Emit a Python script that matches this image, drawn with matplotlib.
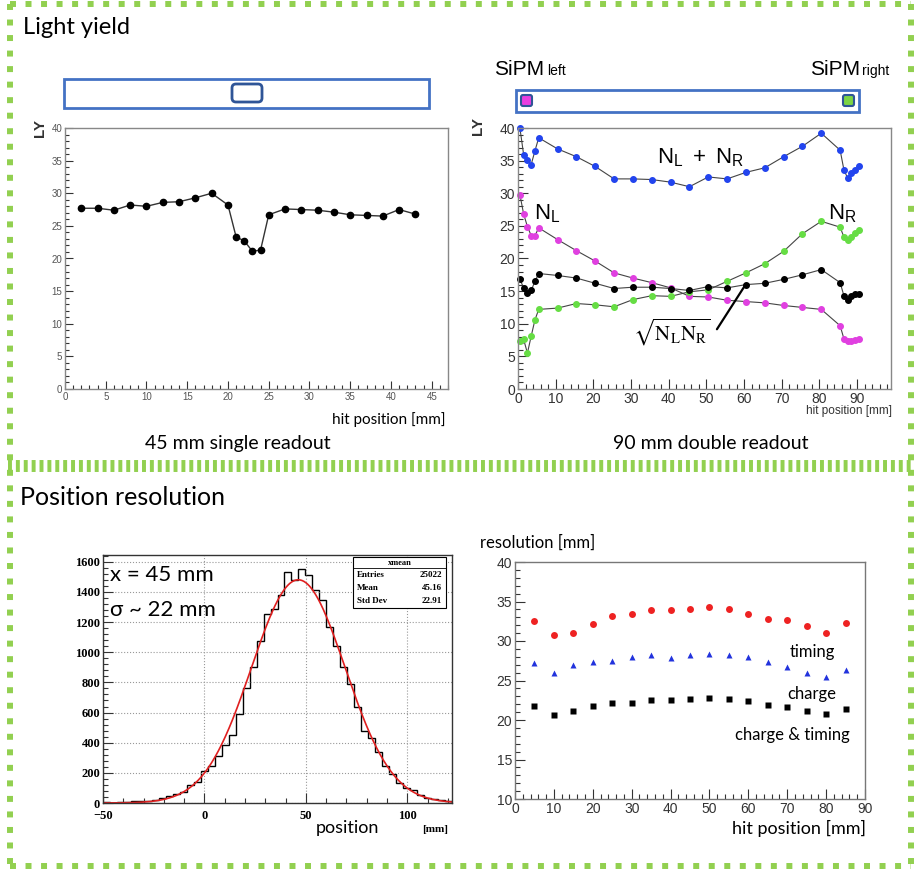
import matplotlib
matplotlib.use("Agg")
import numpy as np
import matplotlib.pyplot as plt
from matplotlib.patches import Rectangle, FancyBboxPatch
from matplotlib.ticker import MultipleLocator

plt.rcParams["font.family"] = ["Liberation Sans", "DejaVu Sans"]
plt.rcParams["mathtext.fontset"] = "custom"
plt.rcParams["mathtext.rm"] = "Liberation Sans"
plt.rcParams["mathtext.it"] = "Liberation Sans:italic"

W, H = 914, 872
GREEN = "#92D050"; BARBLUE = "#4472C4"; DKBLUE = "#2F5597"
CAL = ["Lato", "DejaVu Sans"]

# ---- light yield, 45 mm single readout
LY45_X = [2, 4, 6, 8, 10, 12, 14, 16, 18, 20, 21, 22, 23, 24, 25, 27, 29, 31, 33, 35, 37, 39, 41, 43]
LY45 = [27.7, 27.7, 27.4, 28.2, 28.0, 28.6, 28.7, 29.3, 30.0, 28.2, 23.3, 22.7, 21.1, 21.3,
        26.7, 27.6, 27.5, 27.4, 27.1, 26.7, 26.6, 26.5, 27.5, 26.8]

# ---- light yield, 90 mm double readout
LY90_X = [0.5, 1.5, 2.5, 3.5, 4.5, 5.5, 10.5, 15.5, 20.5, 25.5, 30.5, 35.5, 40.5, 45.5, 50.5,
          55.5, 60.5, 65.5, 70.5, 75.5, 80.5, 85.5, 86.5, 87.5, 88.5, 89.5, 90.5]
N_SUM = [40.0, 35.9, 35.1, 34.4, 36.5, 38.5, 36.8, 35.6, 34.1, 32.2, 32.2, 32.1, 31.7, 31.0, 32.5,
         32.2, 33.2, 33.9, 35.6, 37.2, 39.2, 36.6, 33.6, 32.3, 33.1, 33.5, 34.2]
N_L = [29.8, 26.8, 24.9, 23.5, 23.5, 24.7, 22.9, 21.2, 19.6, 17.8, 17.0, 16.3, 15.5, 14.2, 14.1,
       13.6, 13.4, 13.2, 12.8, 12.5, 12.2, 9.7, 7.7, 7.3, 7.3, 7.5, 7.7]
N_R = [7.3, 7.6, 5.5, 8.1, 10.6, 12.2, 12.4, 13.1, 12.9, 12.6, 13.7, 14.3, 14.2, 14.9, 15.2,
       16.5, 17.8, 19.2, 21.1, 23.8, 25.7, 24.8, 23.3, 22.8, 23.3, 23.9, 24.3]
N_GEO = [16.8, 15.5, 14.7, 15.1, 16.5, 17.7, 17.4, 17.0, 16.2, 15.4, 15.6, 15.6, 15.4, 15.1, 15.7,
         15.5, 16.0, 16.2, 16.8, 17.5, 18.3, 16.3, 14.3, 13.7, 14.2, 14.5, 14.6]

# ---- reconstructed position histogram at x = 45 mm
HIST_EDGES = np.linspace(-50, 122, 51)
HIST_COUNTS = [5, 3, 8, 6, 12, 10, 14, 18, 30, 45, 58, 74, 118, 140, 215, 245, 310, 385, 450, 590,
               760, 905, 1075, 1255, 1285, 1380, 1530, 1480, 1550, 1510, 1410, 1345, 1170, 1040, 900,
               790, 640, 480, 430, 335, 245, 195, 130, 100, 85, 55, 35, 25, 20, 10]
STATS = [("Entries", "25022"), ("Mean", "45.16"), ("Std Dev", "22.91")]

# ---- position resolution vs hit position
RES_X = [5, 10, 15, 20, 25, 30, 35, 40, 45, 50, 55, 60, 65, 70, 75, 80, 85]
RES_TIMING = [32.5, 30.7, 31.0, 32.2, 33.2, 33.4, 33.9, 33.9, 34.1, 34.3, 34.0, 33.4, 32.8, 32.7, 31.9, 31.0, 32.3]
RES_CHARGE = [27.2, 25.9, 26.9, 27.3, 27.5, 28.0, 28.2, 27.9, 28.2, 28.3, 28.2, 28.0, 27.3, 26.7, 25.9, 25.4, 26.3]
RES_BOTH = [21.8, 20.6, 21.2, 21.8, 22.2, 22.2, 22.5, 22.5, 22.6, 22.8, 22.7, 22.4, 21.9, 21.7, 21.1, 20.8, 21.4]


def px_axes(fig, x0, y0, x1, y1, z=2):
    return fig.add_axes([x0 / W, 1 - y1 / H, (x1 - x0) / W, (y1 - y0) / H], zorder=z)


def root_style(ax, xmaj, xmin, ymaj, ymin, size, color="#333333", family=None, weight="normal",
               tl=6, spc="#555555"):
    ax.xaxis.set_major_locator(MultipleLocator(xmaj)); ax.xaxis.set_minor_locator(MultipleLocator(xmin))
    ax.yaxis.set_major_locator(MultipleLocator(ymaj)); ax.yaxis.set_minor_locator(MultipleLocator(ymin))
    ax.tick_params(which="both", direction="in", top=False, right=False, labelsize=size,
                   labelcolor=color, color="#333333", width=0.8, pad=2)
    ax.tick_params(which="major", length=tl); ax.tick_params(which="minor", length=tl / 2)
    for s in ax.spines.values():
        s.set_color(spc); s.set_linewidth(1.0)
    labs = ax.get_xticklabels() + ax.get_yticklabels()
    if family:
        plt.setp(labs, family=family)
    plt.setp(labs, weight=weight)


fig = plt.figure(figsize=(W / 100, H / 100), dpi=100)
fig.patch.set_facecolor("white")

# overlay in pixel coordinates
ov = fig.add_axes([0, 0, 1, 1], zorder=5)
ov.set_xlim(0, W); ov.set_ylim(H, 0); ov.axis("off"); ov.patch.set_alpha(0)

# dashed green borders
kw = dict(color=GREEN, lw=4.3, dashes=(1.0, 1.6), solid_capstyle="butt", dash_capstyle="butt")
ov.plot([10, 911], [4.5, 4.5], **kw)
ov.plot([10, 911], [866, 866], **kw)
ov.plot([10, 10], [4.5, 866], **kw)
ov.plot([911, 911], [4.5, 866], **kw)
ov.plot([8, 912], [466, 466], color=GREEN, lw=8.6, dashes=(0.33, 0.33), dash_capstyle="butt")

ov.text(23, 28, "Light yield", fontsize=17, family=CAL, va="center", ha="left")
ov.text(20, 497, "Position resolution", fontsize=18, family=CAL, va="center", ha="left")
ov.text(238, 443, "45 mm single readout", fontsize=14, family=CAL, ha="center", va="center")
ov.text(711, 443, "90 mm double readout", fontsize=14, family=CAL, ha="center", va="center")
ov.text(446, 420, "hit position [mm]", fontsize=11, family=CAL, ha="right", va="center")
ov.text(892, 411, "hit position [mm]", fontsize=8.5, ha="right", va="center", color="#333333")

# scintillator bars
ov.add_patch(Rectangle((64, 79), 365, 29, fc="white", ec=BARBLUE, lw=2))
ov.add_patch(FancyBboxPatch((232, 84), 30, 18, boxstyle="round,pad=0,rounding_size=4",
                            fc="white", ec=DKBLUE, lw=2))
ov.add_patch(Rectangle((516, 90), 343, 22, fc="white", ec=BARBLUE, lw=2))
ov.add_patch(FancyBboxPatch((521, 95), 11, 11, boxstyle="round,pad=0,rounding_size=2",
                            fc="#E83EE0", ec=DKBLUE, lw=1.5))
ov.add_patch(FancyBboxPatch((843, 95), 11, 11, boxstyle="round,pad=0,rounding_size=2",
                            fc="#7CD444", ec=DKBLUE, lw=1.5))
ov.text(544, 75, "SiPM", fontsize=15, ha="right", va="baseline")
ov.text(547, 75, "left", fontsize=10, ha="left", va="baseline")
ov.text(860, 75, "SiPM", fontsize=15, ha="right", va="baseline")
ov.text(862, 75, "right", fontsize=10, ha="left", va="baseline")
ov.text(40, 128, "LY", fontsize=11, rotation=90, ha="center", va="center", weight="bold", color="#333333")
ov.text(478, 126, "LY", fontsize=11, rotation=90, ha="center", va="center", weight="bold", color="#333333")

# ---- top left plot
a1 = px_axes(fig, 65, 128, 448, 389)
a1.set_xlim(0, 47); a1.set_ylim(0, 40)
a1.plot(LY45_X, LY45, "-", color="#333333", lw=1, marker="o", ms=4.5, mfc="black", mec="black")
root_style(a1, 5, 1, 5, 1, 7, color="#555555", tl=6, spc="#888888")

# ---- top right plot
a2 = px_axes(fig, 518, 128, 891, 389)
a2.set_xlim(0, 99); a2.set_ylim(0, 40)
for ys, c in [(N_SUM, "#2244EE"), (N_L, "#E040E0"), (N_R, "#66DD44"), (N_GEO, "black")]:
    a2.plot(LY90_X, ys, "-", color="#444444", lw=0.8, marker="o", ms=4, mfc=c, mec=c, clip_on=False)
root_style(a2, 10, 2, 5, 1, 10, color="#333333", tl=7, spc="#888888")
a2.text(48.4, 35.4, r"$\mathrm{N_L\ +\ N_R}$", fontsize=16, ha="center", va="center")
a2.text(7.7, 26.9, r"$\mathrm{N_L}$", fontsize=16, ha="center", va="center")
a2.text(86, 26.9, r"$\mathrm{N_R}$", fontsize=16, ha="center", va="center")
a2.text(40.9, 8.6, r"$\sqrt{\mathrm{N}_\mathrm{L}\mathrm{N}_\mathrm{R}}$", fontsize=15,
        ha="center", va="center", math_fontfamily="stix")
a2.annotate("", xy=(60.4, 16.0), xytext=(52.4, 8.8),
            arrowprops=dict(arrowstyle="-", color="black", lw=1.6))

# ---- bottom left histogram
a3 = px_axes(fig, 103, 555, 452, 803)
a3.set_xlim(-50, 122); a3.set_ylim(0, 1645)
a3.grid(True, which="major", ls=":", color="#999999", lw=0.8)
a3.stairs(HIST_COUNTS, HIST_EDGES, color="black", lw=1)
cnt = np.asarray(HIST_COUNTS, float)
ctr = 0.5 * (HIST_EDGES[:-1] + HIST_EDGES[1:])
mu = np.average(ctr, weights=cnt)
sd = np.sqrt(np.average((ctr - mu) ** 2, weights=cnt))
amp = cnt.sum() * (HIST_EDGES[1] - HIST_EDGES[0]) / (np.sqrt(2 * np.pi) * sd)
xs = np.linspace(-50, 122, 400)
a3.plot(xs, amp * np.exp(-0.5 * ((xs - mu) / sd) ** 2), color="#E02020", lw=1.2)
root_style(a3, 50, 10, 200, 40, 9, color="black", family=["Liberation Serif", "DejaVu Serif"],
           weight="bold", tl=7, spc="#333333")
a3.tick_params(axis="x", pad=5)
a3.text(0.02, 0.92, "x = 45 mm", transform=a3.transAxes, fontsize=16, family=CAL, va="center")
a3.text(0.02, 0.78, "σ ~ 22 mm", transform=a3.transAxes, fontsize=16, family=CAL, va="center")
ov.text(347, 828, "position", fontsize=13, family=CAL, ha="center", va="center")
ov.text(435, 829, "[mm]", fontsize=8, family=["Liberation Serif"], weight="bold", ha="center", va="center")

# stats box
ov.add_patch(Rectangle((353, 557), 93, 51, fc="white", ec="black", lw=0.8))
ov.plot([353, 446], [568, 568], color="black", lw=0.6)
ov.text(399.5, 562.5, "xmean", fontsize=6, family=["Liberation Serif"], weight="bold", ha="center", va="center")
for i, (k, v) in enumerate(STATS):
    ov.text(357, 575 + 13 * i, k, fontsize=6.5, family=["Liberation Serif"], weight="bold", va="center")
    ov.text(442, 575 + 13 * i, v, fontsize=6.5, family=["Liberation Serif"], weight="bold", va="center", ha="right")

# ---- bottom right resolution plot
a4 = px_axes(fig, 515, 562, 865, 799)
a4.set_xlim(0, 90); a4.set_ylim(10, 40)
a4.plot(RES_X, RES_TIMING, "o", color="#EE2222", ms=5, mec="none")
a4.plot(RES_X, RES_CHARGE, "^", color="#2233DD", ms=5, mec="none")
a4.plot(RES_X, RES_BOTH, "s", color="black", ms=5, mec="none")
root_style(a4, 10, 2, 5, 1, 10, color="#333333", tl=7, spc="#777777")
ov.text(480, 543, "resolution [mm]", fontsize=12, family=CAL, ha="left", va="center")
ov.text(866, 828, "hit position [mm]", fontsize=13, family=CAL, ha="right", va="center")
ov.text(812, 652, "timing", fontsize=12, family=CAL, ha="center", va="center")
ov.text(812, 694, "charge", fontsize=12, family=CAL, ha="center", va="center")
ov.text(792, 735, "charge & timing", fontsize=12, family=CAL, ha="center", va="center")

fig.savefig("out.png", dpi=100, facecolor="white")
